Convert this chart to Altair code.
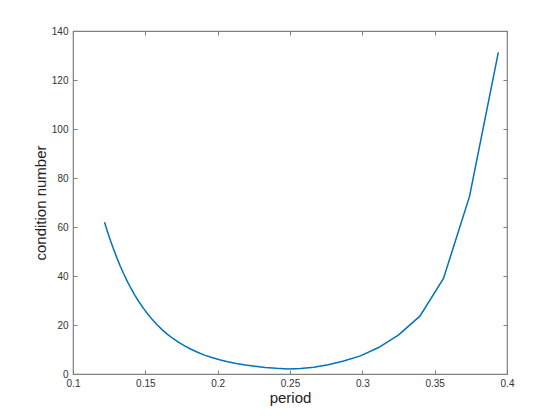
import altair as alt
import pandas as pd

period = [0.1218, 0.1239, 0.1260, 0.1282, 0.1304, 0.1327, 0.1352, 0.1377, 0.1403, 0.1430,
          0.1458, 0.1487, 0.1518, 0.1550, 0.1583, 0.1617, 0.1653, 0.1691, 0.1731, 0.1772,
          0.1816, 0.1861, 0.1909, 0.1960, 0.2013, 0.2069, 0.2129, 0.2192, 0.2258, 0.2329,
          0.2405, 0.2486, 0.2572, 0.2665, 0.2764, 0.2871, 0.2987, 0.3112, 0.3249, 0.3398,
          0.3561, 0.3741, 0.3940]
cond = [61.9, 58.0, 54.3, 50.7, 47.3, 44.0, 40.7, 37.6, 34.7, 31.9,
        29.3, 26.8, 24.4, 22.1, 20.0, 18.0, 16.2, 14.5, 12.9, 11.5,
        10.1, 8.9, 7.7, 6.7, 5.8, 5.0, 4.3, 3.7, 3.2, 2.7,
        2.3, 2.05, 2.2, 2.8, 3.8, 5.3, 7.4, 10.8, 15.9, 23.6,
        39.0, 72.5, 131.3]

x_ticks = [0.1, 0.15, 0.2, 0.25, 0.3, 0.35, 0.4]
y_ticks = [0, 20, 40, 60, 80, 100, 120, 140]

W, H = 434, 343
df = pd.DataFrame({"period": period, "cond": cond})

xs = alt.Scale(domain=[0.1, 0.4], nice=False, zero=False)
ys = alt.Scale(domain=[0, 140], nice=False)

lab = dict(labelFont="Liberation Sans", labelFontSize=10, labelColor="#333333",
           labelFlush=False, labelOverlap=False,
           titleFont="Liberation Sans", titleFontSize=15, titleColor="#222222",
           titleFontWeight="normal", grid=False, domain=False, ticks=False)
tk = dict(labels=False, domain=False, grid=False, ticks=True, tickSize=4,
          tickColor="#808080", tickWidth=1, title="")

base = alt.Chart(df)

line = base.mark_line(color="#0072BD", strokeWidth=1.5).encode(
    x=alt.X("period:Q", scale=xs,
            axis=alt.Axis(orient="bottom", values=x_ticks, format="~g", title="period",
                          labelPadding=4, titlePadding=2, **lab)),
    y=alt.Y("cond:Q", scale=ys,
            axis=alt.Axis(orient="left", values=y_ticks, format="d", title="condition number",
                          labelPadding=5, titlePadding=3, **lab)),
)

ticks1 = base.mark_line(opacity=0).encode(
    x=alt.X("period:Q", scale=xs, axis=alt.Axis(orient="top", offset=-H, values=x_ticks, **tk)),
    y=alt.Y("cond:Q", scale=ys, axis=alt.Axis(orient="right", offset=-W, values=y_ticks, **tk)),
)
ticks2 = base.mark_line(opacity=0).encode(
    x=alt.X("period:Q", scale=xs, axis=alt.Axis(orient="bottom", offset=-H, values=x_ticks, **tk)),
    y=alt.Y("cond:Q", scale=ys, axis=alt.Axis(orient="left", offset=-W, values=y_ticks, **tk)),
)

chart = alt.layer(line, ticks1, ticks2).resolve_axis(
    x="independent", y="independent"
).properties(
    width=W, height=H,
    autosize=alt.AutoSizeParams(type="none"),
    padding={"left": 65, "top": 23, "right": 45, "bottom": 38},
).configure_view(stroke="#808080", strokeWidth=1.2)

chart.save("out.html", embed_options={"renderer": "svg", "actions": False})
